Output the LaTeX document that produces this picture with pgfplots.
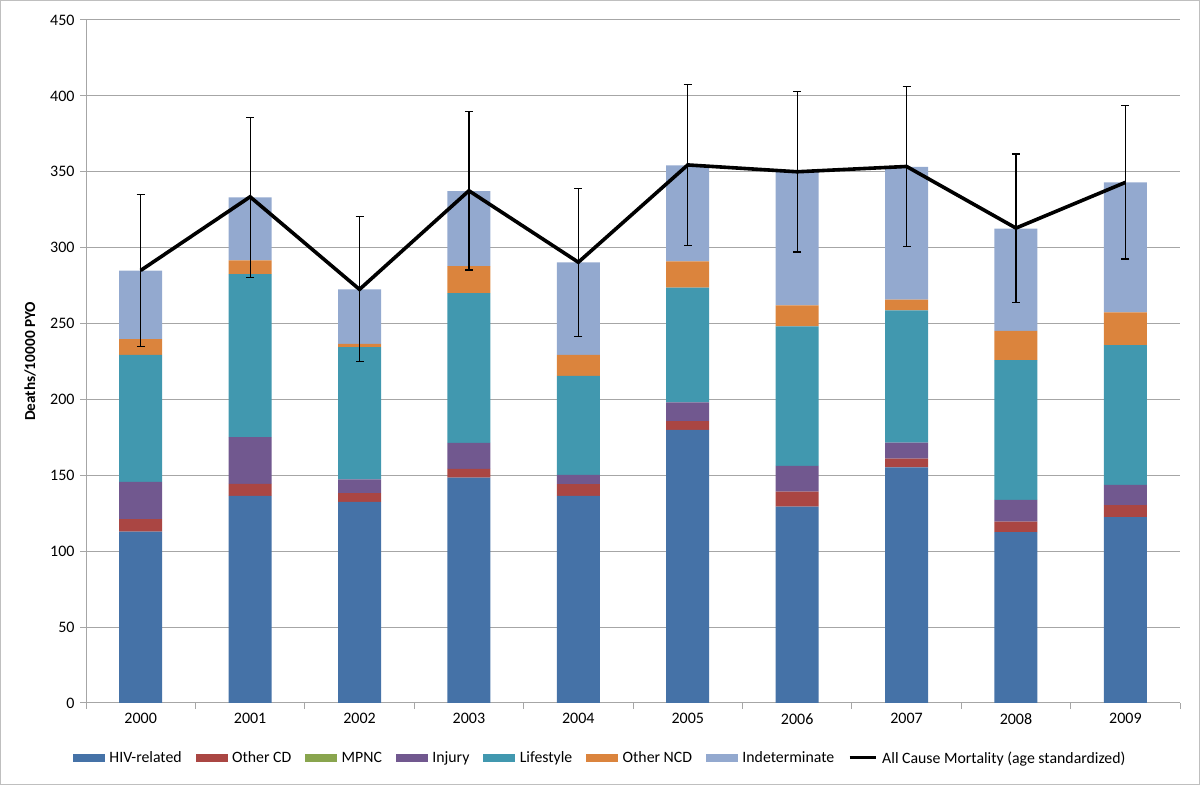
\documentclass[border=0pt]{standalone}
\usepackage{pgfplots}
\pgfplotsset{compat=1.18}
\usepackage{pgfplotstable}
\usepackage{fontspec}
\setmainfont{Carlito}
\definecolor{hivblue}{HTML}{4572A7}
\definecolor{ocdred}{HTML}{AA4643}
\definecolor{mpncgreen}{HTML}{89A54E}
\definecolor{injpurple}{HTML}{71588F}
\definecolor{lifeteal}{HTML}{4198AF}
\definecolor{ncdorange}{HTML}{DB843D}
\definecolor{indetblue}{HTML}{93A9CF}
\definecolor{gridgray}{HTML}{A6A6A6}
\definecolor{bordergray}{HTML}{BFBFBF}

\pgfplotstableread{
x hiv ocd inj life oncd indet
0 112.9 8.2 24.6 83.7 10.3 45.1
1 136.5 7.9 30.7 107.5 9.0 41.5
2 132.5 5.7 9.2 87.1 2.1 35.9
3 148.5 5.8 17.1 98.7 17.7 49.5
4 136.5 7.7 6.1 65.3 13.8 60.9
5 180.0 5.7 12.3 75.6 17.3 63.3
6 129.4 9.9 16.9 91.9 13.8 88.1
7 155.3 5.7 10.6 87.1 7.0 87.6
8 112.5 7.0 14.3 92.1 19.3 67.3
9 122.4 7.9 13.4 92.1 21.5 85.7
}\bars

\pgfplotstableread{
x y ep em
0 285.0 49.9 50.3
1 333.5 52.1 53.0
2 272.5 47.9 47.7
3 337.5 52.1 52.2
4 290.4 48.6 48.7
5 354.5 52.9 53.2
6 350.0 53.0 52.9
7 353.5 52.8 52.8
8 312.9 48.8 48.8
9 343.0 50.5 50.5
}\allcause

\pgfplotsset{
  swatch/.style={legend image code/.code={\fill[#1] (0bp,-3.5bp) rectangle (31bp,3.5bp);}},
  common/.style={
    width=1094bp, height=683bp, scale only axis,
    at={(86bp,82bp)}, anchor=south west,
    xmin=-0.5, xmax=9.5, ymin=0, ymax=450,
  }
}

\begin{document}
\begin{tikzpicture}
\useasboundingbox (0,0) rectangle (1200bp,785bp);
\draw[bordergray, line width=1bp] (0.5bp,0.5bp) rectangle (1199.5bp,784.5bp);

\begin{axis}[common,
  ybar stacked, bar width=43bp,
  axis x line=bottom, axis y line=left,
  axis line style={-, draw=gridgray, line width=1bp},
  ytick={0,50,...,450},
  xtick={0,...,9},
  xticklabels={2000,2001,2002,2003,2004,2005,2006,2007,2008,2009},
  minor xtick={-0.5,0.5,...,9.5},
  tick align=outside,
  major tick length=6bp, minor tick length=6bp,
  major x tick style={draw=none},
  minor x tick style={draw=gridgray, line width=1bp},
  ytick style={draw=gridgray, line width=1bp},
  ymajorgrids, grid style={gridgray, line width=1bp},
  /pgf/number format/assume math mode=true,
  ticklabel style={font=\fontsize{16bp}{19bp}\selectfont, text=black},
  yticklabel style={xshift=-2bp},
  xticklabel style={yshift=-1bp},
  ylabel={\bfseries Deaths/10000 PYO},
  ylabel style={at={(axis description cs:-0.0512,0.5)}, anchor=center, font=\fontsize{15.3bp}{18bp}\selectfont},
  every axis plot/.append style={draw=none},
]
\addplot[fill=hivblue] table[x=x, y=hiv] {\bars};
\addplot[fill=ocdred] table[x=x, y=ocd] {\bars};
\addplot[fill=injpurple] table[x=x, y=inj] {\bars};
\addplot[fill=lifeteal] table[x=x, y=life] {\bars};
\addplot[fill=ncdorange] table[x=x, y=oncd] {\bars};
\addplot[fill=indetblue] table[x=x, y=indet] {\bars};
\end{axis}

\begin{axis}[common,
  hide axis,
  legend style={at={(axis description cs:0.47,-0.0805)}, anchor=center, draw=none, fill=none,
    legend columns=-1, font=\fontsize{15.8bp}{18bp}\selectfont,
    /tikz/every even column/.append style={column sep=12bp},
    /tikz/every odd column/.append style={column sep=3bp}},
]
\addlegendimage{swatch=hivblue}
\addlegendentry{HIV-related}
\addlegendimage{swatch=ocdred}
\addlegendentry{Other CD}
\addlegendimage{swatch=mpncgreen}
\addlegendentry{MPNC}
\addlegendimage{swatch=injpurple}
\addlegendentry{Injury}
\addlegendimage{swatch=lifeteal}
\addlegendentry{Lifestyle}
\addlegendimage{swatch=ncdorange}
\addlegendentry{Other NCD}
\addlegendimage{swatch=indetblue}
\addlegendentry{Indeterminate}
\addplot[black, line width=3.6bp, mark=none, miter limit=4,
  legend image code/.code={\draw[black, line width=3bp] (0bp,0bp) -- (26bp,0bp);},
  error bars/.cd, y dir=both, y explicit,
  error bar style={line width=1.2bp, black},
  error mark options={rotate=90, mark size=4bp, line width=1.2bp, black}]
  table[x=x, y=y, y error plus=ep, y error minus=em] {\allcause};
\addlegendentry{All Cause Mortality (age standardized)}
\end{axis}
\end{tikzpicture}
\end{document}
